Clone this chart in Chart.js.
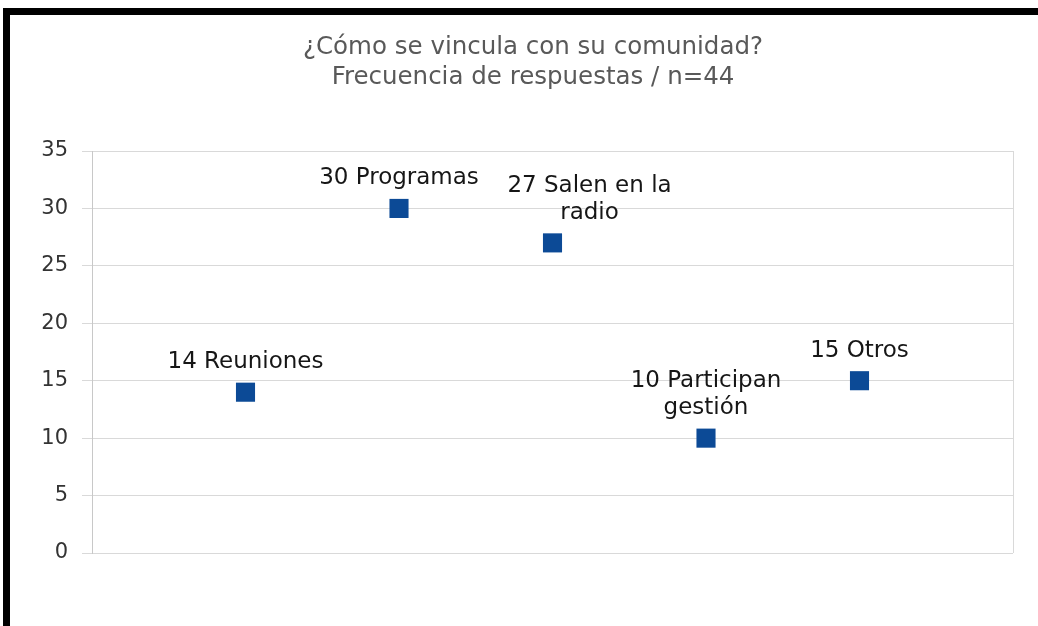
<!DOCTYPE html>
<html>
<head>
<meta charset="utf-8">
<script src="https://cdn.jsdelivr.net/npm/chart.js@4.4.1/dist/chart.umd.min.js"></script>
<style>
  html, body { margin: 0; padding: 0; background: #fff; }
  .frame {
    position: absolute; left: 3px; top: 8px; right: -10px; bottom: -10px;
    border-left: 7px solid #000; border-top: 7px solid #000;
  }
  .wrap { position: relative; width: 1038px; height: 626px; overflow: hidden; }
  canvas { position: absolute; left: 0; top: 0; }
</style>
</head>
<body>
<div class="wrap">
  <div class="frame"></div>
  <canvas id="myChart" width="1038" height="626"></canvas>
</div>
<script>
const categories = ["Reuniones", "Programas", "Salen en la radio", "Participan gestión", "Otros"];
const values = [14, 30, 27, 10, 15];
// label text above each marker, split into lines
const pointLabels = [
  ["14 Reuniones"],
  ["30 Programas"],
  ["27 Salen en la", "radio"],
  ["10 Participan", "gestión"],
  ["15 Otros"]
];
const yTicks = [0, 5, 10, 15, 20, 25, 30, 35];
const titleLines = ["¿Cómo se vincula con su comunidad?", "Frecuencia de respuestas / n=44"];

const colors = {
  marker: "#0c4a96",
  grid: "#d9d9d9",
  tick: "#333333",
  title: "#595959",
  label: "#161616"
};

// two-line title, centred a little right of the canvas middle
const titlePlugin = {
  id: "titleBlock",
  afterDraw(chart) {
    const ctx = chart.ctx;
    ctx.save();
    ctx.font = "24.5px 'DejaVu Sans'";
    ctx.fillStyle = colors.title;
    ctx.textAlign = "center";
    ctx.textBaseline = "middle";
    titleLines.forEach((line, i) => ctx.fillText(line, 533, 48 + i * 30));
    ctx.restore();
  }
};

// text above each marker; the third label is nudged right so it clears its neighbour
const labelPlugin = {
  id: "pointLabels",
  afterDatasetsDraw(chart, args, opts) {
    const ctx = chart.ctx;
    const meta = chart.getDatasetMeta(0);
    const shift = opts.shift || {};
    ctx.save();
    ctx.font = "23px 'DejaVu Sans'";
    ctx.fillStyle = colors.label;
    ctx.textAlign = "center";
    ctx.textBaseline = "middle";
    meta.data.forEach((pt, i) => {
      const lines = pointLabels[i];
      const dx = shift[i] || 0;
      lines.forEach((line, j) => {
        const offset = 30 + (lines.length - 1 - j) * 27;
        ctx.fillText(line, pt.x + dx, pt.y - offset);
      });
    });
    ctx.restore();
  }
};

const ctx = document.getElementById("myChart").getContext("2d");
const chart = new Chart(ctx, {
  type: "scatter",
  data: {
    datasets: [{
      label: "Frecuencia",
      data: values.map((v, i) => ({ x: i + 1, y: v })),
      pointStyle: "rect",
      pointRadius: 13.5,
      pointHoverRadius: 13.5,
      backgroundColor: colors.marker,
      borderColor: colors.marker,
      borderWidth: 0
    }]
  },
  options: {
    responsive: false,
    animation: false,
    layout: { padding: { left: 12, right: 25, top: 151, bottom: 73 } },
    plugins: {
      legend: { display: false },
      tooltip: { enabled: false },
      title: { display: false },
      pointLabels: { shift: { 2: 37 } }
    },
    scales: {
      x: {
        type: "linear",
        min: 0,
        max: categories.length + 1,
        ticks: { display: false, stepSize: 1 },
        grid: {
          drawTicks: false,
          color: (c) => (c.tick && c.tick.value === categories.length + 1 ? colors.grid : "transparent")
        },
        border: { display: false }
      },
      y: {
        min: yTicks[0],
        max: yTicks[yTicks.length - 1],
        afterBuildTicks: (scale) => { scale.ticks = yTicks.map(v => ({ value: v })); },
        afterFit: (scale) => { scale.width = 80; },
        ticks: {
          color: colors.tick,
          padding: 14,
          font: { family: "'DejaVu Sans'", size: 21 }
        },
        grid: { color: colors.grid, tickLength: 10, tickColor: colors.grid },
        border: { color: "#c8c8c8" }
      }
    }
  },
  plugins: [labelPlugin, titlePlugin]
});
</script>
</body>
</html>
